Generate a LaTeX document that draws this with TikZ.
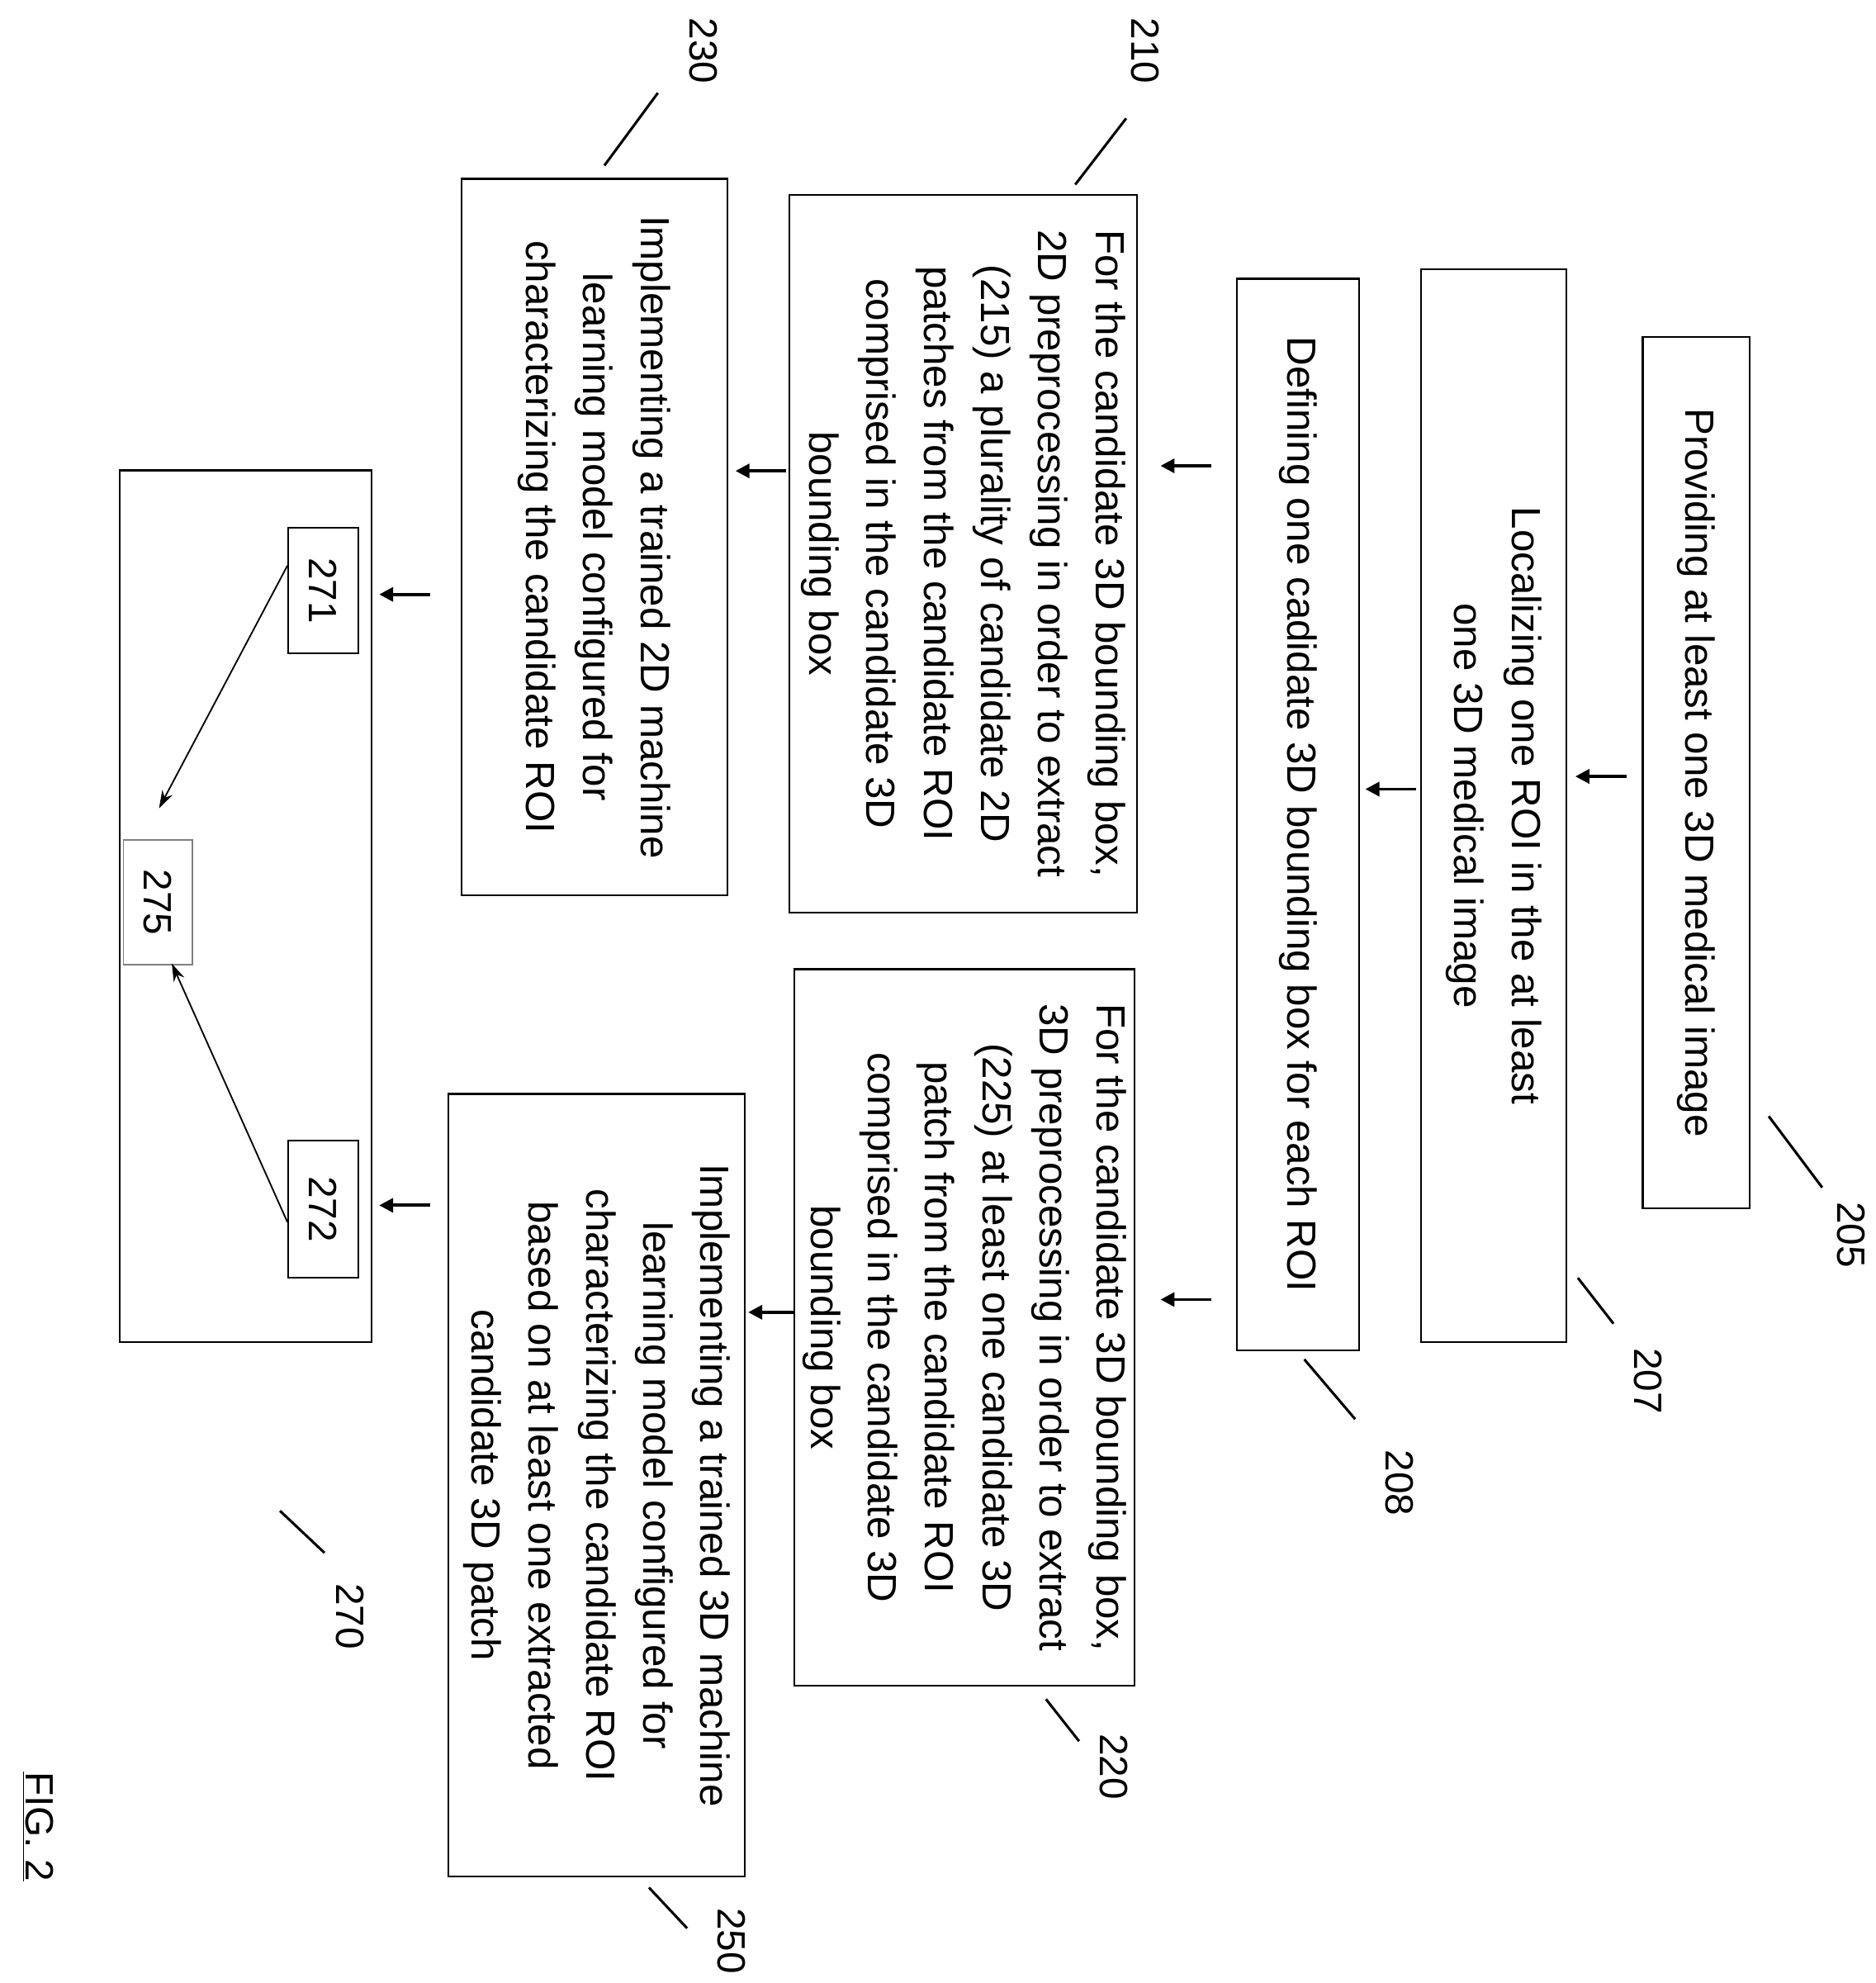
\documentclass[tikz,border=0pt]{standalone}
\usepackage{fontspec}
\setmainfont{Liberation Sans}
\usetikzlibrary{arrows.meta}
\begin{document}
\begin{tikzpicture}[x=1pt,y=-1pt,
  box/.style={draw,line width=1.4pt,rotate=-90,inner sep=0pt,align=center,font=\fontsize{32}{45}\selectfont},
  sbox/.style={draw,line width=1.2pt,rotate=-90,inner sep=0pt,font=\fontsize{31}{36}\selectfont},
  lbl/.style={rotate=-90,font=\fontsize{31}{36}\selectfont},
  arr/.style={line width=2.5pt,-{Triangle[length=11pt,width=11pt]}},
  thin/.style={line width=1.2pt,-{Stealth[length=14pt,width=9pt]}},
  lead/.style={line width=2pt}]
\useasboundingbox (0,0) rectangle (1474,1558);
\node[box,minimum width=685,minimum height=84] (n205) at (1333,607) {Providing at least one 3D medical image};
\node[box,minimum width=843,minimum height=114] (n207) at (1174,633) {Localizing one ROI in the at least\\one 3D medical image};
\node[box,minimum width=842,minimum height=96] (n208) at (1020,640) {Defining one cadidate 3D bounding box for each ROI};
\node[box,minimum width=564,minimum height=273] (n210) at (757,435) {For the candidate 3D bounding box,\\2D preprocessing in order to extract\\(215) a plurality of candidate 2D\\patches from the candidate ROI\\comprised in the candidate 3D\\bounding box};
\node[box,minimum width=563,minimum height=267] (n220) at (758,1043) {For the candidate 3D bounding box,\\3D preprocessing in order to extract\\(225) at least one candidate 3D\\patch from the candidate ROI\\comprised in the candidate 3D\\bounding box};
\node[box,minimum width=563,minimum height=209] (n230) at (467,422) {Implementing a trained 2D machine\\learning model configured for\\characterizing the candidate ROI};
\node[box,minimum width=615,minimum height=233] (n250) at (469,1167) {Implementing a trained 3D machine\\learning model configured for\\characterizing the candidate ROI\\based on at least one extracted\\candidate 3D patch};
\node[box,minimum width=685,minimum height=198] (n270) at (193,712) {};
\node[sbox,minimum width=99,minimum height=55] (n271) at (254,464) {271};
\node[sbox,minimum width=108,minimum height=55] (n272) at (254,950) {272};
\node[sbox,minimum width=98,minimum height=54,draw=gray] (n275) at (124,709) {275};
% flow arrows
\draw[arr] (1278,610) -- (1238,610);
\draw[arr] (1113,620) -- (1073,620);
\draw[arr] (952,366) -- (912,366);
\draw[arr] (952,1021) -- (912,1021);
\draw[arr] (618,370) -- (578,370);
\draw[arr] (625,1031) -- (588,1031);
\draw[arr] (338,467) -- (298,467);
\draw[arr] (338,947) -- (298,947);
\draw[thin] (n271.235) -- (125,635);
\draw[thin] (n272.290) -- (135,757);
% reference labels
\draw[lead] (1390,877) -- (1432,933); \node[lbl] at (1455,970) {205};
\draw[lead] (1240,1004) -- (1268,1040); \node[lbl] at (1295,1085) {207};
\draw[lead] (1025,1068) -- (1065,1115); \node[lbl] at (1100,1165) {208};
\draw[lead] (845,145) -- (885,93); \node[lbl] at (900,40) {210};
\draw[lead] (475,130) -- (517,73); \node[lbl] at (553,40) {230};
\draw[lead] (822,1335) -- (848,1368); \node[lbl] at (875,1388) {220};
\draw[lead] (510,1483) -- (540,1515); \node[lbl] at (575,1525) {250};
\draw[lead] (220,1187) -- (255,1220); \node[lbl] at (275,1270) {270};
\node[lbl] at (30,1435) {\underline{FIG. 2}};
\end{tikzpicture}
\end{document}
